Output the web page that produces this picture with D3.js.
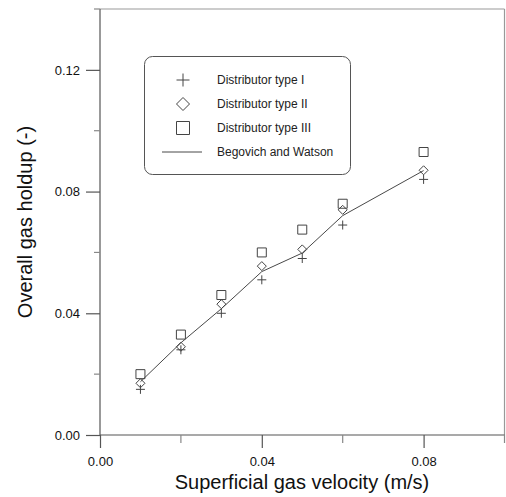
<!DOCTYPE html>
<html>
<head>
<meta charset="utf-8">
<script src="https://cdn.jsdelivr.net/npm/d3@7"></script>
<style>
  body { margin: 0; background: #fff; }
  text { font-family: "Liberation Sans", Arial, sans-serif; }
</style>
</head>
<body>
<div id="chart"></div>
<script>
// data
var velocity   = [0.01, 0.02, 0.03, 0.04, 0.05, 0.06, 0.08];
var typeOne    = [0.015, 0.028, 0.040, 0.051, 0.058, 0.069, 0.084];
var typeTwo    = [0.017, 0.029, 0.043, 0.0555, 0.061, 0.074, 0.087];
var typeThree  = [0.020, 0.033, 0.046, 0.060, 0.0675, 0.076, 0.093];
var begovich   = [0.0175, 0.0303, 0.0415, 0.0537, 0.0598, 0.0721, 0.0869];
var xTicks     = [0, 0.04, 0.08];
var xMinor     = [0.02, 0.06, 0.10];
var yTicks     = [0, 0.04, 0.08, 0.12];
var yMinor     = [0.02, 0.06, 0.10, 0.14];
var legendLabels = ['Distributor type I', 'Distributor type II', 'Distributor type III', 'Begovich and Watson'];

var width = 506, height = 497;
var axisColor = '#555';

var svg = d3.select('#chart')
  .append('svg')
  .attr('width', width)
  .attr('height', height);

var x = d3.scaleLinear().domain([0, 0.10]).range([100, 504.5]);
var y = d3.scaleLinear().domain([0, 0.14]).range([435, 9]);

// frame (top and right)
svg.append('line')
  .attr('x1', x(0)).attr('x2', x(0.10))
  .attr('y1', y(0.14)).attr('y2', y(0.14))
  .attr('stroke', '#999').attr('stroke-width', 1.2);
svg.append('line')
  .attr('x1', x(0.10)).attr('x2', x(0.10))
  .attr('y1', y(0.14)).attr('y2', y(0))
  .attr('stroke', '#999').attr('stroke-width', 1.2);

// axes
var xAxis = svg.append('g')
  .attr('transform', 'translate(0,' + y(0) + ')')
  .call(d3.axisBottom(x).tickValues(xTicks).tickSize(13).tickPadding(9)
    .tickFormat(d3.format('.2f')));
var yAxis = svg.append('g')
  .attr('transform', 'translate(' + x(0) + ',0)')
  .call(d3.axisLeft(y).tickValues(yTicks).tickSize(14).tickPadding(6)
    .tickFormat(d3.format('.2f')));

[xAxis, yAxis].forEach(function(g){
  g.select('.domain').attr('stroke', axisColor).attr('stroke-width', 1.2);
  g.selectAll('.tick line').attr('stroke', axisColor).attr('stroke-width', 1.2);
  g.selectAll('.tick text')
    .attr('fill', '#111')
    .style('font-size', '13px')
    .style('font-family', '"Liberation Sans", Arial, sans-serif');
});
// y domain stops at the frame, not past it
yAxis.select('.domain').attr('d', 'M0,' + y(0.14) + 'V' + y(0));
xAxis.select('.domain').attr('d', 'M' + x(0) + ',0H' + x(0.10));

// minor ticks
svg.selectAll('.xminor').data(xMinor).enter().append('line')
  .attr('x1', function(d){ return x(d); })
  .attr('x2', function(d){ return x(d); })
  .attr('y1', y(0)).attr('y2', y(0) + 8)
  .attr('stroke', '#888').attr('stroke-width', 1.2);
svg.selectAll('.yminor').data(yMinor).enter().append('line')
  .attr('x1', x(0) - 6).attr('x2', x(0))
  .attr('y1', function(d){ return y(d); })
  .attr('y2', function(d){ return y(d); })
  .attr('stroke', '#888').attr('stroke-width', 1.2);

// axis titles
svg.append('text')
  .attr('x', 302).attr('y', 489)
  .attr('text-anchor', 'middle')
  .style('font-size', '20px')
  .attr('fill', '#111')
  .text('Superficial gas velocity (m/s)');
svg.append('text')
  .attr('transform', 'translate(32,222) rotate(-90)')
  .attr('text-anchor', 'middle')
  .style('font-size', '20px')
  .attr('fill', '#111')
  .text('Overall gas holdup (-)');

// marker shapes
function plusPath(s){ return 'M' + (-s) + ',0H' + s + 'M0,' + (-s) + 'V' + s; }
function diamondPath(s){ return 'M0,' + (-s) + 'L' + s + ',0L0,' + s + 'L' + (-s) + ',0Z'; }
function squarePath(s){ return 'M' + (-s) + ',' + (-s) + 'H' + s + 'V' + s + 'H' + (-s) + 'Z'; }

// correlation line
var line = d3.line()
  .x(function(d, i){ return x(velocity[i]); })
  .y(function(d){ return y(d); });
svg.append('path')
  .datum(begovich)
  .attr('d', line)
  .attr('fill', 'none')
  .attr('stroke', '#333')
  .attr('stroke-width', 0.9);

function drawSeries(values, shape, size){
  svg.append('g').selectAll('path').data(values).enter().append('path')
    .attr('transform', function(d, i){ return 'translate(' + x(velocity[i]) + ',' + y(d) + ')'; })
    .attr('d', shape(size))
    .attr('fill', 'none')
    .attr('stroke', '#444')
    .attr('stroke-width', 1);
}
drawSeries(typeThree, squarePath, 4.5);
drawSeries(typeTwo, diamondPath, 4.5);
drawSeries(typeOne, plusPath, 4.5);

// legend
var legend = svg.append('g');
legend.append('rect')
  .attr('x', 144.5).attr('y', 56.5)
  .attr('width', 206).attr('height', 118)
  .attr('rx', 8).attr('ry', 8)
  .attr('fill', '#fff')
  .attr('stroke', '#555')
  .attr('stroke-width', 1);

var rowY = [80, 104, 128, 152];
var legendShapes = [plusPath, diamondPath, squarePath, null];
legendLabels.forEach(function(label, i){
  if (legendShapes[i]) {
    legend.append('path')
      .attr('transform', 'translate(183,' + rowY[i] + ')')
      .attr('d', legendShapes[i](i === 2 ? 6.5 : 6.5))
      .attr('fill', 'none')
      .attr('stroke', '#444')
      .attr('stroke-width', 1);
  } else {
    legend.append('line')
      .attr('x1', 162).attr('x2', 202)
      .attr('y1', rowY[i]).attr('y2', rowY[i])
      .attr('stroke', '#333').attr('stroke-width', 0.9);
  }
  legend.append('text')
    .attr('x', 217).attr('y', rowY[i] + 4)
    .style('font-size', '12px')
    .attr('fill', '#222')
    .text(label);
});
</script>
</body>
</html>
